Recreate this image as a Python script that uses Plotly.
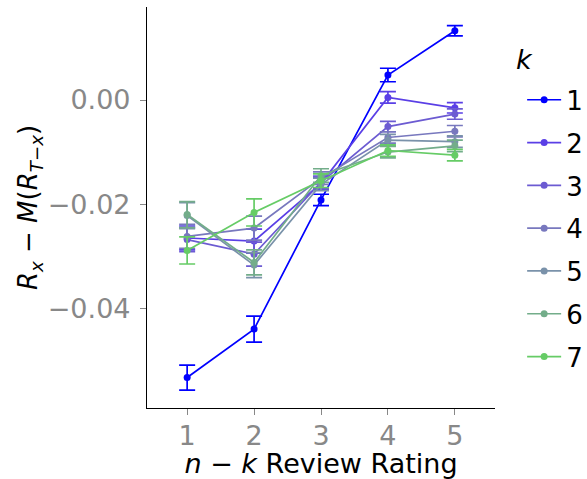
import plotly.graph_objects as go

ratings = [1, 2, 3, 4, 5]
k_labels = ["1", "2", "3", "4", "5", "6", "7"]
means = {
    "1": [-0.0533, -0.0440, -0.0192, 0.0048, 0.0133],
    "2": [-0.0265, -0.0271, -0.0160, 0.0005, -0.0015],
    "3": [-0.0268, -0.0296, -0.0158, -0.0051, -0.0027],
    "4": [-0.0262, -0.0246, -0.0150, -0.0072, -0.0060],
    "5": [-0.0222, -0.0317, -0.0162, -0.0077, -0.0080],
    "6": [-0.0220, -0.0312, -0.0145, -0.0100, -0.0088],
    "7": [-0.0289, -0.0216, -0.0155, -0.0097, -0.0106],
}
errors = {
    "1": [0.0024, 0.0025, 0.0011, 0.0013, 0.0010],
    "2": [0.0023, 0.0023, 0.0012, 0.0011, 0.0010],
    "3": [0.0023, 0.0023, 0.0012, 0.0010, 0.0010],
    "4": [0.0023, 0.0023, 0.0012, 0.0011, 0.0011],
    "5": [0.0025, 0.0024, 0.0012, 0.0011, 0.0011],
    "6": [0.0025, 0.0024, 0.0013, 0.0011, 0.0011],
    "7": [0.0026, 0.0026, 0.0013, 0.0011, 0.0011],
}
colors = ["#0000FF", "#5A3FE6", "#6C5BD2", "#7878BE", "#7A92AA", "#73AD8A", "#66CC66"]

FONT = "DejaVu Sans, Liberation Sans, Arial, sans-serif"

fig = go.Figure()
for k, c in zip(k_labels, colors):
    fig.add_trace(go.Scatter(
        x=ratings, y=means[k], name=k, legendgroup=k,
        mode="lines+markers",
        line=dict(color=c, width=1.7),
        marker=dict(color=c, size=7),
        error_y=dict(type="data", array=errors[k], visible=True,
                     color=c, thickness=1.7, width=8),
    ))

fig.add_annotation(
    text="<i>k</i>", xref="paper", yref="paper", x=1.084, y=0.87,
    xanchor="center", yanchor="middle", showarrow=False,
    font=dict(size=27, family=FONT, color="black"),
)

fig.update_layout(
    width=587, height=479,
    margin=dict(l=147, r=92, t=7, b=71, autoexpand=False),
    paper_bgcolor="white", plot_bgcolor="white",
    font=dict(family=FONT, color="black"),
    showlegend=True,
    legend=dict(
        font=dict(size=26, family=FONT, color="black"),
        x=1.078, xanchor="left", y=0.827, yanchor="top",
        tracegroupgap=6, itemwidth=34, bgcolor="rgba(0,0,0,0)",
    ),
    xaxis=dict(
        range=[0.4, 5.6], tickmode="array", tickvals=ratings,
        ticktext=[str(r) for r in ratings], automargin=False,
        showline=True, linecolor="black", linewidth=1.2,
        ticks="outside", ticklen=6, tickcolor="#888888", tickwidth=1,
        ticklabelstandoff=-3,
        showgrid=False, zeroline=False,
        tickfont=dict(size=27, color="#888888", family=FONT),
        title=dict(text="<i>n</i> − <i>k</i> Review Rating",
                   font=dict(size=27, color="black", family=FONT), standoff=1),
    ),
    yaxis=dict(
        range=[-0.05915, 0.01786], tickmode="array",
        tickvals=[0.0, -0.02, -0.04], automargin=False,
        ticktext=["0.00", "−0.02", "−0.04"],
        showline=True, linecolor="black", linewidth=1.2,
        ticks="outside", ticklen=6, tickcolor="#888888", tickwidth=1,
        ticklabelstandoff=4,
        showgrid=False, zeroline=False,
        tickfont=dict(size=27, color="#888888", family=FONT),
        title=dict(text="<i>R</i><sub><i>x</i></sub> − <i>M</i>(<i>R</i><sub><i>T</i>−<i>x</i></sub>)",
                   font=dict(size=26, color="black", family=FONT), standoff=2),
    ),
)

fig.write_html("out.html", config={"displayModeBar": False},
               post_script="document.body.style.margin='0';document.body.style.padding='0';")
